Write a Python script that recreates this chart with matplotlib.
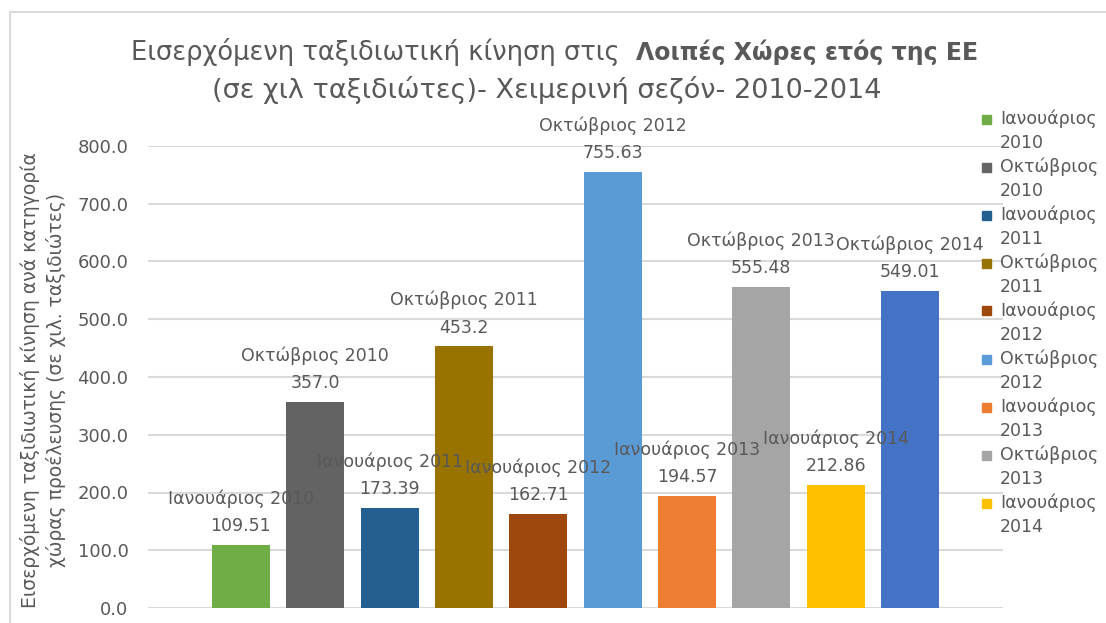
import matplotlib
matplotlib.use("Agg")
from matplotlib import pyplot as plt
from matplotlib.lines import Line2D
from matplotlib.patches import Rectangle

# data
series = ["Ιανουάριος 2010", "Οκτώβριος 2010", "Ιανουάριος 2011", "Οκτώβριος 2011",
          "Ιανουάριος 2012", "Οκτώβριος 2012", "Ιανουάριος 2013", "Οκτώβριος 2013",
          "Ιανουάριος 2014", "Οκτώβριος 2014"]
values = [109.51, 357.0, 173.39, 453.2, 162.71, 755.63, 194.57, 555.48, 212.86, 549.01]
colors = ["#70AD47", "#636363", "#255E91", "#997300", "#9E480E",
          "#5B9BD5", "#ED7D31", "#A5A5A5", "#FFC000", "#4472C4"]
yticks = [0, 100, 200, 300, 400, 500, 600, 700, 800]

plt.rcParams['font.family'] = ['DejaVu Sans']
txt = "#595959"
W, H = 1106, 623

fig = plt.figure(figsize=(W/100, H/100), dpi=100)
ax = fig.add_axes([148/W, 1 - 608/H, (1003 - 148)/W, (608 - 146)/H])

for i, (name, v, c) in enumerate(zip(series, values, colors)):
    ax.bar(i, v, width=0.78, color=c, zorder=2)
    ax.annotate(name + "\n" + str(v), (i, v), xytext=(0, 7), textcoords="offset points",
                ha="center", va="bottom", fontsize=12.5, color=txt, linespacing=1.65)

ax.set_xlim(-1.25, 10.25)
ax.set_ylim(0, 800)
ax.set_yticks(yticks)
ax.set_yticklabels(["%.1f" % t for t in yticks], fontsize=13, color=txt)
ax.set_xticks([])
ax.tick_params(axis="y", length=0, pad=14)
ax.grid(axis="y", color="#d9d9d9", linewidth=1.5, zorder=0)
for s in ax.spines.values():
    s.set_visible(False)

fig.text(43/W, 1 - 380/H,
         "Εισερχόμενη ταξιδιωτική κίνηση ανά κατηγορία\nχώρας προέλευσης (σε χιλ. ταξιδιώτες)",
         rotation=90, ha="center", va="center", fontsize=13.5, color=txt, linespacing=1.35)

# title, mixed normal / bold
fig.text(0.575, 1 - 52/H, "Εισερχόμενη ταξιδιωτική κίνηση στις  ", ha="right", va="center",
         fontsize=18.5, color=txt)
fig.text(0.575, 1 - 52/H, "Λοιπές Χώρες ετός της ΕΕ", ha="left", va="center",
         fontsize=17, color=txt, fontweight="bold")
fig.text(0.494, 1 - 90/H, "(σε χιλ ταξιδιώτες)- Χειμερινή σεζόν- 2010-2014", ha="center",
         va="center", fontsize=19.5, color=txt)

# legend drawn by hand, last entry is cut off in the original
for i in range(9):
    month, year = series[i].split(" ")
    y = 1 - (119 + 48*i)/H
    fig.add_artist(Rectangle((982/W, y - 4.5/H), 9/W, 9/H, color=colors[i],
                             transform=fig.transFigure))
    fig.text(1000/W, y, month, ha="left", va="center", fontsize=12.5, color=txt)
    fig.text(1000/W, y - 24/H, year, ha="left", va="center", fontsize=12.5, color=txt)

# chart border
fig.add_artist(Line2D([10/W, 1], [1 - 12/H, 1 - 12/H], color="#d9d9d9", linewidth=1.5))
fig.add_artist(Line2D([10/W, 10/W], [0, 1 - 12/H], color="#d9d9d9", linewidth=1.5))

fig.savefig("out.png", dpi=100)
